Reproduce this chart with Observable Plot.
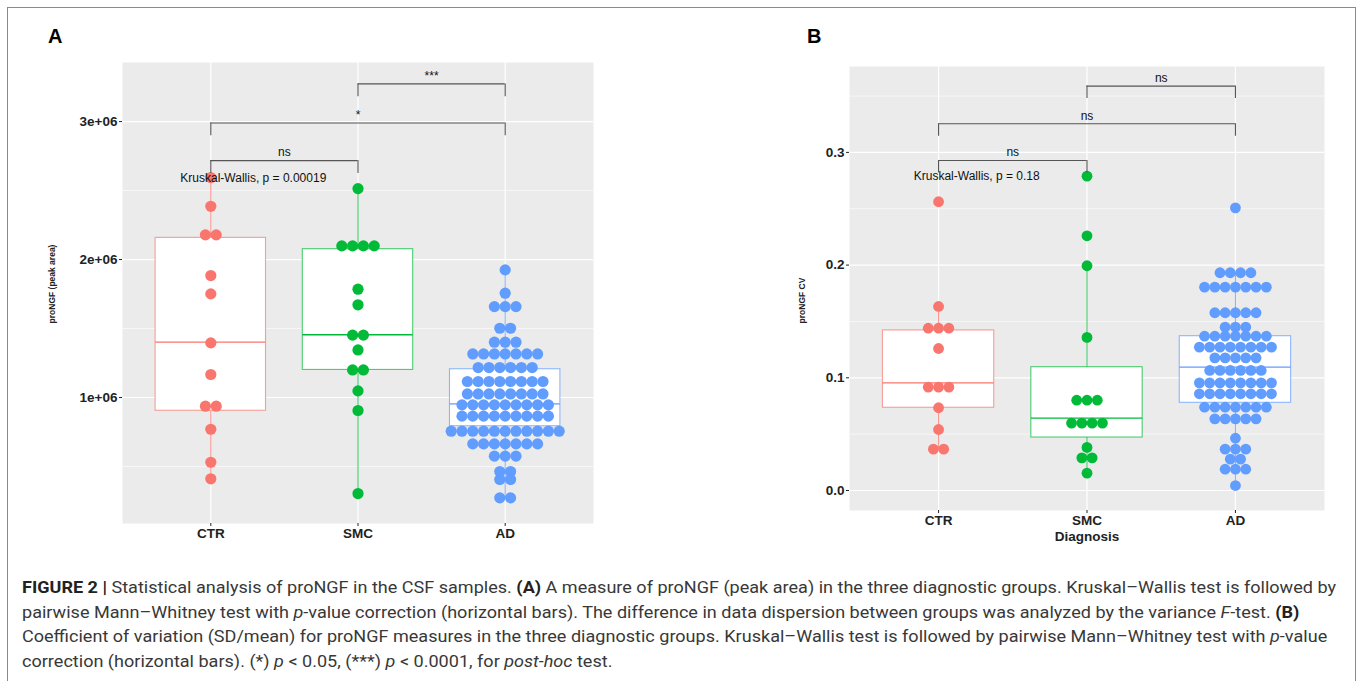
<!DOCTYPE html>
<html>
<head>
<meta charset="utf-8">
<script src="https://cdn.jsdelivr.net/npm/d3@7"></script>
<script src="https://cdn.jsdelivr.net/npm/@observablehq/plot@0.6"></script>
<style>
  html, body { margin: 0; padding: 0; background: #fff; }
  body { position: relative; width: 1358px; height: 681px; overflow: hidden; font-family: "Liberation Sans", Arial, sans-serif; }
  .frame { position: absolute; left: 7px; top: 7px; width: 1349px; height: 700px; box-sizing: border-box;
           border: 1.5px solid #8a8a8a; border-bottom: none; }
  .panel { position: absolute; top: 0; }
  .letter { position: absolute; font: bold 20px "Liberation Sans", Arial, sans-serif; color: #000; }
  #cap { position: absolute; left: 22px; top: 575px; white-space: nowrap; font-family: Roboto, "Liberation Sans", sans-serif;
         font-size: 17px; line-height: 24.7px; color: #383838; transform-origin: 0 0; }
  #cap b { color: #222; }
</style>
</head>
<body>
<div class="frame"></div>
<div class="letter" style="left:48px;top:25px">A</div>
<div class="letter" style="left:807px;top:25px">B</div>
<div id="pa" class="panel" style="left:0px"></div>
<div id="pb" class="panel" style="left:700px"></div>
<div id="cap">
  <div><span id="l1"><b>FIGURE 2 |</b> Statistical analysis of proNGF in the CSF samples. <b>(A)</b> A measure of proNGF (peak area) in the three diagnostic groups. Kruskal–Wallis test is followed by</span></div>
  <div>pairwise Mann–Whitney test with <i>p</i>-value correction (horizontal bars). The difference in data dispersion between groups was analyzed by the variance <i>F</i>-test. <b>(B)</b></div>
  <div>Coefficient of variation (SD/mean) for proNGF measures in the three diagnostic groups. Kruskal–Wallis test is followed by pairwise Mann–Whitney test with <i>p</i>-value</div>
  <div>correction (horizontal bars). (*) <i>p</i> &lt; 0.05, (***) <i>p</i> &lt; 0.0001, for <i>post-hoc</i> test.</div>
</div>
<script>
// ---------- data ----------
const groups = ["CTR", "SMC", "AD"];
const colors = ["#F8766D", "#00BA38", "#619CFF"];

// Panel A: proNGF (peak area), one entry per dot (binned values)
const ctrA = [2594000, 2386000, 2179000, 2179000, 1884000, 1751000, 1396000, 1167000, 937000, 937000, 770000, 531000, 411000];
const smcA = [2514000, 2099000, 2099000, 2099000, 2099000, 1785000, 1672000, 1452000, 1452000, 1345000, 1200000, 1200000, 1048000, 906000, 304000];
const adA = [
  1925000,
  1756000,
  1659000, 1659000, 1659000,
  1502000, 1502000,
  1401000, 1401000, 1401000,
  1316000, 1316000, 1316000, 1316000, 1316000, 1316000, 1316000,
  1217000, 1217000, 1217000, 1217000, 1217000, 1217000,
  1116000, 1116000, 1116000, 1116000, 1116000, 1116000, 1116000, 1116000,
  1026000, 1026000, 1026000, 1026000, 1026000, 1026000, 1026000, 1026000,
  947000, 947000, 947000, 947000, 947000, 947000, 947000, 947000, 947000,
  865000, 865000, 865000, 865000, 865000, 865000, 865000, 865000, 865000,
  756000, 756000, 756000, 756000, 756000, 756000, 756000, 756000, 756000, 756000, 756000,
  664000, 664000, 664000, 664000, 664000, 664000, 664000,
  575000, 575000, 575000,
  464000, 464000,
  406000, 406000,
  273000, 273000
];
const q1A = [904000, 1200000, 792000];
const medA = [1401000, 1455000, 954000];
const q3A = [2157000, 2075000, 1205000];
const loA = [411000, 304000, 273000];
const hiA = [2594000, 2514000, 1925000];

// Panel B: proNGF CV
const ctrB = [0.2562, 0.1633, 0.144, 0.144, 0.144, 0.126, 0.0917, 0.0917, 0.0917, 0.0734, 0.0541, 0.0367, 0.0367];
const smcB = [0.2789, 0.226, 0.1994, 0.1358, 0.0801, 0.0801, 0.0801, 0.0598, 0.0598, 0.0598, 0.0598, 0.0382, 0.029, 0.029, 0.0154];
const adB = [
  0.2508,
  0.1932, 0.1932, 0.1932, 0.1932,
  0.1804, 0.1804, 0.1804, 0.1804, 0.1804, 0.1804, 0.1804,
  0.1577, 0.1577, 0.1577, 0.1577, 0.1577,
  0.1449, 0.1449, 0.1449,
  0.1369, 0.1369, 0.1369, 0.1369, 0.1369, 0.1369, 0.1369,
  0.1272, 0.1272, 0.1272, 0.1272, 0.1272, 0.1272, 0.1272, 0.1272,
  0.1177, 0.1177, 0.1177, 0.1177, 0.1177,
  0.1065, 0.1065, 0.1065, 0.1065, 0.1065, 0.1065,
  0.0955, 0.0955, 0.0955, 0.0955, 0.0955, 0.0955, 0.0955, 0.0955,
  0.0858, 0.0858, 0.0858, 0.0858, 0.0858, 0.0858, 0.0858, 0.0858,
  0.0739, 0.0739, 0.0739, 0.0739, 0.0739, 0.0739, 0.0739,
  0.0636, 0.0636, 0.0636, 0.0636, 0.0636,
  0.0464,
  0.0367, 0.0367, 0.0367,
  0.0278, 0.0278,
  0.0189, 0.0189, 0.0189,
  0.0044
];
const q1B = [0.0734, 0.047, 0.0778];
const medB = [0.0955, 0.0642, 0.1094];
const q3B = [0.142, 0.1094, 0.1369];
const loB = [0.0367, 0.0154, 0.0044];
const hiB = [0.1633, 0.1994, 0.1932];

// axis ticks
const yMajorA = [1e6, 2e6, 3e6];
const yLabelsA = ["1e+06", "2e+06", "3e+06"];
const yMinorA = [0.5e6, 1.5e6, 2.5e6];
const yMajorB = [0, 0.1, 0.2, 0.3];
const yLabelsB = ["0.0", "0.1", "0.2", "0.3"];
const yMinorB = [0.05, 0.15, 0.25, 0.35];

// pairwise comparisons
const pairsA = [[1, 2], [1, 3], [2, 3]];
const pairYA = [2717000, 2990000, 3273000];
const pairLabelA = ["ns", "*", "***"];
const pairsB = [[1, 2], [1, 3], [2, 3]];
const pairYB = [0.2928, 0.3254, 0.3588];
const pairLabelB = ["ns", "ns", "ns"];

const kwA = "Kruskal-Wallis, p = 0.00019";
const kwB = "Kruskal-Wallis, p = 0.18";

// ---------- helpers ----------
function swarm(values, gi, spacing) {
  const counts = d3.rollup(values, v => v.length, d => d);
  const seen = new Map();
  return values.map(v => {
    const n = counts.get(v);
    const k = seen.get(v) || 0;
    seen.set(v, k + 1);
    return {x: gi + 1 + (k - (n - 1) / 2) * spacing, y: v, color: colors[gi]};
  });
}

function panel(cfg) {
  const plotW = cfg.width - cfg.ml - cfg.mr;
  const unitPx = plotW / 3.2;
  const sp = cfg.dotSpacing / unitPx;
  const dots = cfg.series.flatMap((vals, i) => swarm(vals, i, sp));
  const boxes = groups.map((g, i) => ({
    x: i + 1, x1: i + 1 - 0.375, x2: i + 1 + 0.375,
    q1: cfg.q1[i], med: cfg.med[i], q3: cfg.q3[i], lo: cfg.lo[i], hi: cfg.hi[i], color: colors[i]
  }));
  const tip = 0.028 * (cfg.yDomain[1] - cfg.yDomain[0]);
  const br = cfg.pairs.map((p, i) => ({x1: p[0], x2: p[1], y: cfg.pairY[i], label: cfg.pairLabel[i]}));
  const font = "'Liberation Sans', Arial, sans-serif";
  return Plot.plot({
    width: cfg.width, height: cfg.height,
    marginLeft: cfg.ml, marginRight: cfg.mr, marginTop: cfg.mt, marginBottom: cfg.mb,
    style: {background: "transparent", fontFamily: font, overflow: "visible"},
    x: {domain: [0.4, 3.6], axis: null},
    y: {domain: cfg.yDomain, axis: null},
    color: {type: "identity"},
    marks: [
      Plot.frame({fill: "#EBEBEB", stroke: "none"}),
      Plot.ruleY(cfg.yMinor, {stroke: "#fff", strokeWidth: 0.6}),
      Plot.ruleY(cfg.yMajor, {stroke: "#fff", strokeWidth: 1.2}),
      Plot.ruleX([1, 2, 3], {stroke: "#fff", strokeWidth: 1.2}),
      // whiskers
      Plot.ruleX(boxes, {x: "x", y1: "q3", y2: "hi", stroke: "color", strokeOpacity: 0.75, strokeWidth: 1.1}),
      Plot.ruleX(boxes, {x: "x", y1: "q1", y2: "lo", stroke: "color", strokeOpacity: 0.75, strokeWidth: 1.1}),
      // boxes
      Plot.rect(boxes, {x1: "x1", x2: "x2", y1: "q1", y2: "q3", fill: "#fff", stroke: "color", strokeOpacity: 0.7, strokeWidth: 1.1}),
      Plot.ruleY(boxes, {y: "med", x1: "x1", x2: "x2", stroke: "color", strokeWidth: 1.3}),
      // dots
      Plot.dot(dots, {x: "x", y: "y", r: cfg.r, fill: "color", stroke: "none"}),
      // comparison brackets
      Plot.ruleY(br, {y: "y", x1: "x1", x2: "x2", stroke: "#555", strokeWidth: 1.1}),
      Plot.ruleX(br, {x: "x1", y1: "y", y2: d => d.y - tip, stroke: "#555", strokeWidth: 1.1}),
      Plot.ruleX(br, {x: "x2", y1: "y", y2: d => d.y - tip, stroke: "#555", strokeWidth: 1.1}),
      Plot.text(br, {x: d => (d.x1 + d.x2) / 2, y: "y", text: "label", dy: -8, fontSize: 12, fill: "#111"}),
      // Kruskal-Wallis label
      Plot.text([cfg.kw], {x: cfg.kwX, y: cfg.kwY, text: d => d, textAnchor: "start", fontSize: 12, fill: "#111"}),
      // axes
      Plot.axisX({ticks: [1, 2, 3], tickFormat: i => groups[i - 1], tickSize: 3, tickPadding: 2,
                  fontSize: 13.5, fontWeight: "bold", color: "#222", label: null}),
      Plot.axisY({ticks: cfg.yMajor, tickFormat: (d, i) => cfg.yLabels[i], tickSize: 3, tickPadding: 2,
                  fontSize: 13.5, fontWeight: "bold", color: "#222", label: null}),
      Plot.text([cfg.yTitle], {frameAnchor: "left", textAnchor: "middle", lineAnchor: "middle", text: d => d, rotate: -90,
                  dx: cfg.yTitleDx, dy: cfg.yTitleDy, fontSize: 8.5, fontWeight: "bold", fill: "#222"}),
      cfg.xTitle ? Plot.text([cfg.xTitle], {frameAnchor: "bottom", textAnchor: "middle", lineAnchor: "middle", text: d => d,
                  dy: 26, fontSize: 13.5, fontWeight: "bold", fill: "#222"}) : null
    ]
  });
}

const plotA = panel({
  width: 700, height: 560, ml: 122, mr: 107, mt: 62, mb: 37,
  yDomain: [87000, 3428000],
  series: [ctrA, smcA, adA], q1: q1A, med: medA, q3: q3A, lo: loA, hi: hiA,
  yMajor: yMajorA, yLabels: yLabelsA, yMinor: yMinorA,
  pairs: pairsA, pairY: pairYA, pairLabel: pairLabelA,
  kw: kwA, kwX: 0.793, kwY: 2592000,
  dotSpacing: 10.8, r: 5.6,
  yTitle: "proNGF (peak area)", yTitleDx: -70, yTitleDy: -9
});
document.getElementById("pa").appendChild(plotA);

const plotB = panel({
  width: 658, height: 560, ml: 149, mr: 34, mt: 66, mb: 50,
  yDomain: [-0.01775, 0.3762],
  series: [ctrB, smcB, adB], q1: q1B, med: medB, q3: q3B, lo: loB, hi: hiB,
  yMajor: yMajorB, yLabels: yLabelsB, yMinor: yMinorB,
  pairs: pairsB, pairY: pairYB, pairLabel: pairLabelB,
  kw: kwB, kwX: 0.833, kwY: 0.2786,
  dotSpacing: 10.3, r: 5.4,
  yTitle: "proNGF CV", yTitleDx: -47, yTitleDy: 12,
  xTitle: "Diagnosis"
});
document.getElementById("pb").appendChild(plotB);

// fit the caption to the reference line length
const l1 = document.getElementById("l1");
const w1 = l1.getBoundingClientRect().width;
const ratio = 1314 / w1;
document.getElementById("cap").style.transform = `scaleX(${ratio})`;
</script>
</body>
</html>
